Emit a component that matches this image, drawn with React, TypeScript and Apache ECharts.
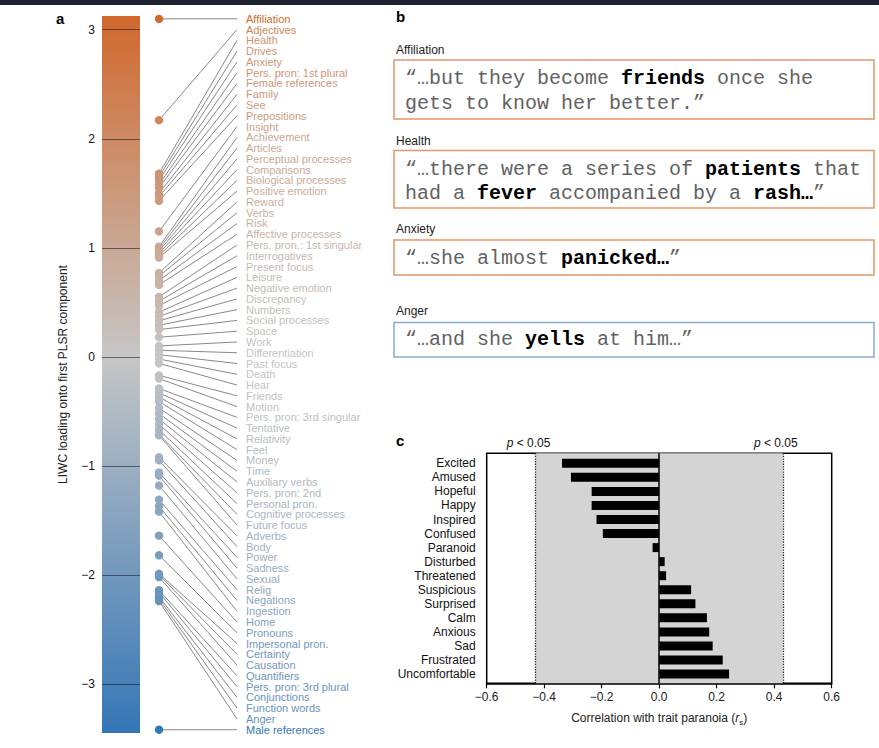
import React, { useEffect, useRef } from "react";
import * as echarts from "echarts";

// ---------- Data ----------
const LIWC_CATEGORIES = [
  "Affiliation", "Adjectives", "Health", "Drives", "Anxiety", "Pers. pron: 1st plural",
  "Female references", "Family", "See", "Prepositions", "Insight", "Achievement",
  "Articles", "Perceptual processes", "Comparisons", "Biological processes",
  "Positive emotion", "Reward", "Verbs", "Risk", "Affective processes",
  "Pers. pron.: 1st singular", "Interrogatives", "Present focus", "Leisure",
  "Negative emotion", "Discrepancy", "Numbers", "Social processes", "Space", "Work",
  "Differentiation", "Past focus", "Death", "Hear", "Friends", "Motion",
  "Pers. pron: 3rd singular", "Tentative", "Relativity", "Feel", "Money", "Time",
  "Auxiliary verbs", "Pers. pron: 2nd", "Personal pron.", "Cognitive processes",
  "Future focus", "Adverbs", "Body", "Power", "Sadness", "Sexual", "Relig",
  "Negations", "Ingestion", "Home", "Pronouns", "Impersonal pron.", "Certainty",
  "Causation", "Quantifiers", "Pers. pron: 3rd plural", "Conjunctions",
  "Function words", "Anger", "Male references",
];
const LIWC_LOADINGS = [
  3.10, 2.17, 1.68, 1.65, 1.62, 1.58, 1.55, 1.5, 1.47, 1.43, 1.15, 1.01,
  0.99, 0.97, 0.95, 0.93, 0.91, 0.77, 0.74, 0.7, 0.66, 0.55, 0.51, 0.47,
  0.41, 0.37, 0.33, 0.29, 0.25, 0.18, 0.1, 0.06, 0.02, -0.02, -0.06, -0.17,
  -0.2, -0.29, -0.33, -0.37, -0.41, -0.47, -0.52, -0.57, -0.62, -0.67, -0.71,
  -0.72, -0.92, -0.95, -1.06, -1.09, -1.18, -1.31, -1.37, -1.42, -1.64, -1.82,
  -1.99, -2.0, -2.02, -2.14, -2.16, -2.2, -2.22, -2.24, -3.42,
];
const LOADING_TICKS = [-3, -2, -1, 0, 1, 2, 3];
const LOADING_MIN = -3.45;
const LOADING_MAX = 3.126;

const EMOTIONS = [
  "Excited", "Amused", "Hopeful", "Happy", "Inspired", "Confused", "Paranoid",
  "Disturbed", "Threatened", "Suspicious", "Surprised", "Calm", "Anxious", "Sad",
  "Frustrated", "Uncomfortable",
];
const PARANOIA_CORR = [
  -0.338, -0.307, -0.235, -0.235, -0.218, -0.196, -0.023, 0.019, 0.024, 0.111,
  0.126, 0.166, 0.174, 0.186, 0.221, 0.243,
];
const SIG_THRESHOLD = 0.43;

const QUOTE_TITLES = ["Affiliation", "Health", "Anxiety", "Anger"];
const QUOTE_LINES = [
  ["“…but they become {b|friends} once she", "gets to know her better.”"],
  ["“…there were a series of {b|patients} that", "had a {b|fever} accompanied by a {b|rash…}”"],
  ["“…she almost {b|panicked…}”"],
  ["“…and she {b|yells} at him…”"],
];

// ---------- Styling helpers ----------
const FONT = '"Liberation Sans", Arial, Helvetica, sans-serif';
const MONO = '"Courier New", "Liberation Mono", monospace';
const ORANGE = [209, 104, 44];
const GRAY = [198, 198, 198];
const BLUE = [52, 118, 182];

function loadingColor(v: number): string {
  const target = v >= 0 ? ORANGE : BLUE;
  const t = v >= 0 ? Math.min(v / LOADING_MAX, 1) : Math.min(v / LOADING_MIN, 1);
  const c = GRAY.map((g, k) => Math.round(g + (target[k] - g) * t));
  return `rgb(${c[0]},${c[1]},${c[2]})`;
}
const minus = (s: string) => s.replace(/-/g, "\u2212");

// layout constants for panel a (x units of the hidden x axis = px)
const BAR_W = 38;
const DOT_X = 57;
const LINE_END_X = 135;
const LABEL_X = 144;

const QUOTE_BOXES = [
  { title: 50, top: 60, h: 59, lines: [78, 103], color: "#e2976a" },
  { title: 141, top: 150.5, h: 57.5, lines: [169, 193], color: "#e2976a" },
  { title: 229, top: 240, h: 35, lines: [258], color: "#e2976a" },
  { title: 311, top: 322.5, h: 34.5, lines: [339], color: "#88acd0" },
];

export default function App() {
  const ref = useRef<HTMLDivElement>(null);
  useEffect(() => {
    if (!ref.current) return;
    const chart = echarts.init(ref.current, null, { renderer: "svg" });
    const n = LIWC_LOADINGS.length;
    const top = LIWC_LOADINGS[0];
    const bot = LIWC_LOADINGS[n - 1];
    const labelPos = LIWC_LOADINGS.map((_, i) => top - (i * (top - bot)) / (n - 1));
    const liwcData = LIWC_LOADINGS.map((v, i) => [v, labelPos[i]]);

    const graphics: any[] = [
      { type: "rect", shape: { x: 0, y: 0, width: 879, height: 5 }, style: { fill: "#1e2130" } },
      { type: "text", x: 56, y: 18, style: { text: "a", fontSize: 15, fontWeight: "bold", fontFamily: FONT, fill: "#000", align: "left", verticalAlign: "middle" } },
      { type: "text", x: 396, y: 16, style: { text: "b", fontSize: 15, fontWeight: "bold", fontFamily: FONT, fill: "#000", align: "left", verticalAlign: "middle" } },
      { type: "text", x: 396, y: 440, style: { text: "c", fontSize: 15, fontWeight: "bold", fontFamily: FONT, fill: "#000", align: "left", verticalAlign: "middle" } },
    ];
    QUOTE_BOXES.forEach((b, k) => {
      graphics.push({
        type: "text", x: 396, y: b.title,
        style: { text: QUOTE_TITLES[k], fontSize: 12, fontFamily: FONT, fill: "#222", align: "left", verticalAlign: "middle" },
      });
      graphics.push({
        type: "rect", shape: { x: 394, y: b.top, width: 480, height: b.h },
        style: { fill: "#fff", stroke: b.color, lineWidth: 1.5 },
      });
      QUOTE_LINES[k].forEach((line, j) => {
        graphics.push({
          type: "text", x: 405, y: b.lines[j], z: 10,
          style: {
            text: line, fontSize: 20, fontFamily: MONO, fill: "#626262", align: "left", verticalAlign: "middle",
            rich: { b: { fontSize: 20, fontFamily: MONO, fontWeight: "bold", fill: "#000" } },
          },
        });
      });
    });

    const option: any = {
      animation: false,
      backgroundColor: "#fff",
      textStyle: { fontFamily: FONT },
      graphic: graphics,
      grid: [
        { left: 102, top: 16, width: 260, height: 717 },
        { left: 486.7, top: 453.3, width: 345, height: 230, show: true, borderColor: "#000", borderWidth: 1.5, backgroundColor: "transparent" },
        { left: 486.7, top: 456.3, width: 345, height: 224.75 },
      ],
      xAxis: [
        { gridIndex: 0, type: "value", min: 0, max: 260, show: false },
        {
          gridIndex: 1, type: "value", min: -0.6, max: 0.6, interval: 0.2,
          axisLine: { lineStyle: { color: "#000", width: 1.5 } },
          axisTick: { length: 5, lineStyle: { color: "#000", width: 1.2 } },
          axisLabel: {
            fontSize: 12, color: "#222", margin: 8,
            formatter: (v: number) => (Math.abs(v) < 1e-9 ? "0.0" : minus(v.toFixed(1))),
          },
          splitLine: { show: false },
          name: "{n|Correlation with trait paranoia (}{i|r}{s|s}{n|)}",
          nameLocation: "middle", nameGap: 27,
          nameTextStyle: {
            rich: {
              n: { fontSize: 12, color: "#222", fontFamily: FONT },
              i: { fontSize: 12, color: "#222", fontStyle: "italic", fontFamily: FONT },
              s: { fontSize: 8, color: "#222", fontFamily: FONT, verticalAlign: "bottom", padding: [8, 0, 0, 0] },
            },
          },
        },
        { gridIndex: 2, type: "value", min: -0.6, max: 0.6, show: false },
      ],
      yAxis: [
        {
          gridIndex: 0, type: "value", min: LOADING_MIN, max: LOADING_MAX,
          axisLine: { show: false }, axisTick: { show: false }, splitLine: { show: false },
          axisLabel: { customValues: LOADING_TICKS, fontSize: 12, color: "#111", margin: 7, formatter: (v: number) => minus(String(v)) },
          name: "LIWC loading onto first PLSR component", nameLocation: "middle", nameGap: 33,
          nameTextStyle: { fontSize: 12, color: "#222" },
        },
        { gridIndex: 1, type: "value", min: 0, max: 1, show: false },
        {
          gridIndex: 2, type: "category", data: EMOTIONS, inverse: true,
          axisLine: { show: false },
          axisTick: { show: true, interval: 0, alignWithLabel: true, length: 5, lineStyle: { color: "#000", width: 1.2 } },
          axisLabel: { interval: 0, fontSize: 12, color: "#111", margin: 11 },
          splitLine: { show: false },
        },
      ],
      series: [
        {
          type: "scatter", xAxisIndex: 0, yAxisIndex: 0, data: [], silent: true,
          markArea: {
            silent: true,
            itemStyle: {
              color: new echarts.graphic.LinearGradient(0, 0, 0, 1, [
                { offset: 0, color: `rgb(${ORANGE.join(",")})` },
                { offset: LOADING_MAX / (LOADING_MAX - LOADING_MIN), color: `rgb(${GRAY.join(",")})` },
                { offset: 1, color: `rgb(${BLUE.join(",")})` },
              ]),
            },
            data: [[{ coord: [0, LOADING_MAX] }, { coord: [BAR_W, LOADING_MIN] }]],
          },
          markLine: {
            silent: true, symbol: ["none", "none"], label: { show: false },
            lineStyle: { color: "rgba(30,30,40,0.6)", width: 1.2, type: "solid" },
            data: LOADING_TICKS.map((t) => [{ coord: [0, t] }, { coord: [BAR_W, t] }]),
          },
        },
        {
          type: "custom", xAxisIndex: 0, yAxisIndex: 0, data: liwcData, silent: true, z: 2, clip: false,
          renderItem: (_p: any, api: any) => {
            const dot = api.coord([DOT_X, api.value(0)]);
            const end = api.coord([LINE_END_X, api.value(1)]);
            return {
              type: "line",
              shape: { x1: dot[0], y1: dot[1], x2: end[0], y2: end[1] },
              style: { stroke: "#555", lineWidth: 0.7 },
            };
          },
        },
        {
          type: "custom", xAxisIndex: 0, yAxisIndex: 0, data: liwcData, silent: true, z: 3, clip: false,
          renderItem: (params: any, api: any) => {
            const v = api.value(0);
            const dot = api.coord([DOT_X, v]);
            const txt = api.coord([LABEL_X, api.value(1)]);
            const col = loadingColor(v);
            return {
              type: "group",
              children: [
                { type: "circle", shape: { cx: dot[0], cy: dot[1], r: 4.2 }, style: { fill: col } },
                {
                  type: "text", x: txt[0], y: txt[1],
                  style: { text: LIWC_CATEGORIES[params.dataIndex], fill: col, fontSize: 11, fontFamily: FONT, align: "left", verticalAlign: "middle" },
                },
              ],
            };
          },
        },
        {
          type: "scatter", xAxisIndex: 1, yAxisIndex: 1, data: [], silent: true,
          markArea: { silent: true, itemStyle: { color: "#d4d4d4" }, data: [[{ xAxis: -SIG_THRESHOLD }, { xAxis: SIG_THRESHOLD }]] },
          markLine: {
            silent: true, symbol: ["none", "none"],
            lineStyle: { type: "dotted", color: "#222", width: 1.3 },
            label: {
              show: true, position: "end", distance: 4, offset: [-7, 0],
              formatter: "{i|p} < 0.05",
              color: "#111", fontSize: 12,
              rich: { i: { fontStyle: "italic", fontSize: 12, color: "#111", fontFamily: FONT } },
            },
            data: [{ xAxis: -SIG_THRESHOLD }, { xAxis: SIG_THRESHOLD }],
          },
        },
        {
          type: "bar", xAxisIndex: 2, yAxisIndex: 2, data: PARANOIA_CORR, barWidth: 9, z: 2,
          itemStyle: { color: "#000" }, silent: true,
        },
        {
          type: "scatter", xAxisIndex: 1, yAxisIndex: 1, data: [], silent: true, z: 4,
          markLine: {
            silent: true, symbol: ["none", "none"], label: { show: false },
            lineStyle: { type: "solid", color: "#000", width: 1.5 },
            data: [{ xAxis: 0 }],
          },
        },
      ],
    };
    chart.setOption(option);
    return () => chart.dispose();
  }, []);
  return <div ref={ref} style={{ position: "absolute", left: 0, top: 0, width: 879, height: 748 }} />;
}
